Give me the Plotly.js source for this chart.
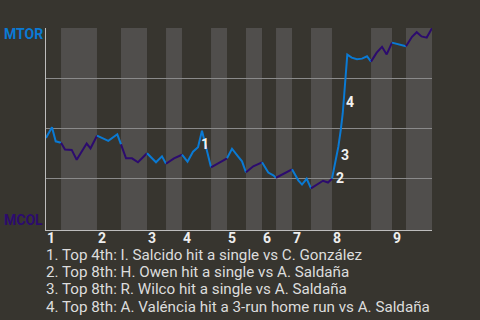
<!DOCTYPE html>
<html>
<head>
<meta charset="utf-8">
<script src="https://cdn.plot.ly/plotly-3.0.1.min.js"></script>
<style>html,body{margin:0;padding:0;background:#37352f;}#chart{width:480px;height:320px;}</style>
</head>
<body>
<div id="chart"></div>
<script>
// Game progress (0 = first pitch, 100 = final out)
const progress = [0, 1.55, 2.51, 3.89, 4.92, 6.66, 7.95, 10.54, 11.53, 13.21,
  13.99, 16.14, 18.47, 19.43, 20.73, 22.28, 23.83, 26.17, 28.50, 30.05,
  31.09, 33.16, 35.23, 36.66, 38.08, 39.38, 40.41, 42.75, 44.30, 46.89,
  48.19, 49.74, 50.78, 51.81, 53.70, 55.96, 57.59, 58.89, 59.59, 61.48,
  63.73, 65.36, 66.32, 67.54, 68.65, 70.54, 71.76, 73.06, 74.09, 74.87,
  75.73, 76.35, 76.87, 77.28, 77.72, 78.06, 79.20, 80.57, 81.87, 83.16,
  84.20, 85.67, 87.05, 88.26, 89.64, 90.85, 92.15, 93.26, 94.82, 96.04,
  97.28, 98.63, 100];
// MTOR win probability after each play
const mtorWinProb = [0.452, 0.505, 0.435, 0.428, 0.394, 0.392, 0.343, 0.424, 0.400, 0.463,
  0.457, 0.437, 0.470, 0.420, 0.350, 0.350, 0.330, 0.375, 0.330, 0.360,
  0.323, 0.350, 0.368, 0.333, 0.383, 0.405, 0.488, 0.305, 0.323, 0.350,
  0.398, 0.360, 0.335, 0.280, 0.310, 0.330, 0.279, 0.265, 0.253, 0.274,
  0.295, 0.240, 0.219, 0.248, 0.200, 0.224, 0.238, 0.229, 0.248, 0.324,
  0.407, 0.490, 0.574, 0.674, 0.790, 0.868, 0.853, 0.845, 0.848, 0.860,
  0.833, 0.878, 0.907, 0.869, 0.928, 0.922, 0.915, 0.910, 0.957, 0.980,
  0.959, 0.953, 1.000];
// Start of each half inning (top 1, bottom 1, top 2, ...)
const halfStarts = [0, 3.89, 13.21, 19.43, 26.17, 31.09, 35.23, 42.75, 46.89, 51.81,
  55.96, 59.59, 63.73, 68.65, 74.09, 84.20, 89.64, 93.26];
const gameEnd = 100;
const inningLabels = ['1', '2', '3', '4', '5', '6', '7', '8', '9'];
const teams = ['MTOR', 'MCOL'];
const teamColors = ['#0a7ad4', '#2c0b6e'];
const eventLabels = ['1', '2', '3', '4'];
const eventPlays = [26, 48, 50, 53];
const eventTexts = [
  '1. Top 4th: I. Salcido hit a single vs C. González',
  '2. Top 8th: H. Owen hit a single vs A. Saldaña',
  '3. Top 8th: R. Wilco hit a single vs A. Saldaña',
  '4. Top 8th: A. Valéncia hit a 3-run home run vs A. Saldaña'
];

const bg = '#37352f';
const band = '#504e4c';
const font = 'Roboto, "Noto Sans", sans-serif';

const traces = [];
const shapes = [];
for (let h = 0; h < halfStarts.length; h++) {
  const s = halfStarts[h];
  const e = h + 1 < halfStarts.length ? halfStarts[h + 1] : gameEnd;
  const xs = [], ys = [];
  for (let i = 0; i < progress.length; i++) {
    if (progress[i] >= s - 1e-9 && progress[i] <= e + 1e-9) { xs.push(progress[i]); ys.push(mtorWinProb[i]); }
  }
  traces.push({x: xs, y: ys, type: 'scatter', mode: 'lines', hoverinfo: 'skip', showlegend: false,
    line: {color: teamColors[h % 2], width: 2}});
  if (h % 2 === 1) {
    shapes.push({type: 'rect', xref: 'x', yref: 'paper', x0: s, x1: e, y0: 0, y1: 1,
      fillcolor: band, line: {width: 0}, layer: 'below'});
  }
}

const annotations = [];
// inning labels
for (let k = 0; k < inningLabels.length; k++) {
  annotations.push({xref: 'x', yref: 'paper', x: halfStarts[2 * k], y: 0, xanchor: 'left', yanchor: 'top',
    xshift: -1, yshift: 2, text: '<b>' + inningLabels[k] + '</b>', showarrow: false,
    font: {family: font, size: 14, color: '#eeeeee'}});
}
// team labels
annotations.push({xref: 'paper', yref: 'paper', x: 0, y: 1, xanchor: 'right', yanchor: 'middle', xshift: -1, yshift: -6,
  text: '<b>' + teams[0] + '</b>', showarrow: false, font: {family: font, size: 14, color: teamColors[0]}});
annotations.push({xref: 'paper', yref: 'paper', x: 0, y: 0, xanchor: 'right', yanchor: 'middle', xshift: -1, yshift: 10,
  text: '<b>' + teams[1] + '</b>', showarrow: false, font: {family: font, size: 14, color: teamColors[1]}});
// event markers on the line
const evShift = [[3, -13], [8, 1], [7, -8], [6, -9]];
for (let k = 0; k < eventLabels.length; k++) {
  const i = eventPlays[k];
  annotations.push({xref: 'x', yref: 'y', x: progress[i], y: mtorWinProb[i], xanchor: 'center', yanchor: 'middle',
    xshift: evShift[k][0], yshift: evShift[k][1], text: '<b>' + eventLabels[k] + '</b>', showarrow: false,
    font: {family: font, size: 14, color: '#f2f2f2'}});
}
// event descriptions
for (let k = 0; k < eventTexts.length; k++) {
  annotations.push({xref: 'paper', yref: 'paper', x: 0, y: 0, xanchor: 'left', yanchor: 'top', xshift: -2,
    yshift: -14 - 17.2 * k, align: 'left', text: eventTexts[k], showarrow: false,
    font: {family: font, size: 15.2, color: '#dddddd'}});
}

const layout = {
  width: 480, height: 320,
  margin: {l: 46, r: 48, t: 28, b: 90, pad: 0},
  paper_bgcolor: bg, plot_bgcolor: bg,
  xaxis: {range: [0, gameEnd], showgrid: false, zeroline: false, showline: true, linecolor: '#bdbdbd', linewidth: 1,
    showticklabels: false, ticks: '', fixedrange: true},
  yaxis: {range: [-0.008, 1.001], tickvals: [0.25, 0.5, 0.75, 1], showgrid: true, gridcolor: '#8a8a8a', gridwidth: 1,
    zeroline: false, showline: true, linecolor: '#bdbdbd', linewidth: 1, showticklabels: false, ticks: '', fixedrange: true},
  shapes: shapes,
  annotations: annotations,
  showlegend: false
};

Plotly.newPlot('chart', traces, layout, {staticPlot: true, displayModeBar: false});
</script>
</body>
</html>
